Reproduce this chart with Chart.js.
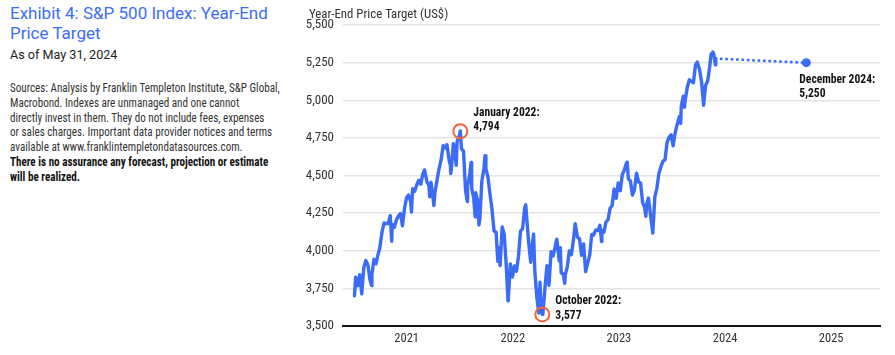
<!DOCTYPE html>
<html><head><meta charset="utf-8">
<script src="https://cdn.jsdelivr.net/npm/chart.js@4.4.1/dist/chart.umd.min.js"></script>
<style>
html,body{margin:0;padding:0;background:#fff;}
body{width:895px;height:355px;position:relative;overflow:hidden;font-family:Roboto,"Noto Sans",sans-serif;}
#side{position:absolute;left:10px;top:0;width:290px;}
.title{color:#3d6df5;font-size:17px;line-height:20px;margin-top:3px;}
.asof{font-size:12.6px;line-height:16px;color:#222;margin-top:4px;}
.src{font-family:"Roboto Condensed","Liberation Sans Narrow",Roboto,sans-serif;font-size:12px;line-height:14.8px;color:#333;margin-top:18px;white-space:nowrap;transform:scaleX(0.925);transform-origin:left top;}
.src b{color:#111;}
#wrap{position:absolute;left:300px;top:0;width:595px;height:355px;}
</style>
</head>
<body>
<div id="side">
  <div class="title">Exhibit 4: S&amp;P 500 Index: Year-End<br>Price Target</div>
  <div class="asof">As of May 31, 2024</div>
  <div class="src">Sources: Analysis by Franklin Templeton Institute, S&amp;P Global,<br>Macrobond. Indexes are unmanaged and one cannot<br>directly invest in them. They do not include fees, expenses<br>or sales charges. Important data provider notices and terms<br>available at www.franklintempletondatasources.com.<br><b>There is no assurance any forecast, projection or estimate<br>will be realized.</b></div>
</div>
<div id="wrap"><canvas id="c" width="595" height="355"></canvas></div>
<script>
// ---- data ----
const dates = [
'2021-01-04','2021-01-08','2021-01-15','2021-01-22','2021-01-29','2021-02-05','2021-02-12','2021-02-19','2021-02-26','2021-03-04','2021-03-05','2021-03-12','2021-03-19','2021-03-26',
'2021-04-01','2021-04-09','2021-04-16','2021-04-23','2021-04-30','2021-05-07','2021-05-12','2021-05-14','2021-05-21','2021-05-28','2021-06-04','2021-06-11','2021-06-18','2021-06-25',
'2021-07-02','2021-07-09','2021-07-16','2021-07-19','2021-07-23','2021-07-30','2021-08-06','2021-08-13','2021-08-20','2021-08-27','2021-09-02','2021-09-10','2021-09-17','2021-09-20','2021-09-24',
'2021-10-01','2021-10-04','2021-10-08','2021-10-15','2021-10-22','2021-10-29','2021-11-05','2021-11-12','2021-11-18','2021-11-26','2021-11-30','2021-12-01','2021-12-03','2021-12-10','2021-12-17','2021-12-20','2021-12-23','2021-12-31',
'2022-01-03','2022-01-07','2022-01-14','2022-01-21','2022-01-27','2022-01-28','2022-02-04','2022-02-09','2022-02-11','2022-02-18','2022-02-23','2022-02-25','2022-03-04','2022-03-08','2022-03-11','2022-03-18','2022-03-25','2022-03-29',
'2022-04-01','2022-04-08','2022-04-14','2022-04-22','2022-04-29','2022-05-06','2022-05-12','2022-05-13','2022-05-20','2022-05-27','2022-06-03','2022-06-10','2022-06-16','2022-06-17','2022-06-24',
'2022-07-01','2022-07-08','2022-07-15','2022-07-22','2022-07-29','2022-08-05','2022-08-12','2022-08-16','2022-08-19','2022-08-26','2022-09-02','2022-09-09','2022-09-12','2022-09-16','2022-09-23','2022-09-30',
'2022-10-04','2022-10-07','2022-10-12','2022-10-14','2022-10-21','2022-10-28','2022-11-04','2022-11-11','2022-11-18','2022-11-25','2022-12-01','2022-12-09','2022-12-13','2022-12-16','2022-12-23','2022-12-28','2022-12-30',
'2023-01-06','2023-01-13','2023-01-20','2023-01-27','2023-02-02','2023-02-10','2023-02-17','2023-02-24','2023-03-02','2023-03-03','2023-03-10','2023-03-17','2023-03-24','2023-03-31',
'2023-04-06','2023-04-14','2023-04-21','2023-04-28','2023-05-04','2023-05-05','2023-05-12','2023-05-19','2023-05-26','2023-06-02','2023-06-09','2023-06-16','2023-06-23','2023-06-30',
'2023-07-07','2023-07-14','2023-07-21','2023-07-28','2023-07-31','2023-08-04','2023-08-11','2023-08-18','2023-08-25','2023-09-01','2023-09-08','2023-09-15','2023-09-22','2023-09-29',
'2023-10-03','2023-10-06','2023-10-12','2023-10-20','2023-10-27','2023-11-03','2023-11-10','2023-11-17','2023-11-24','2023-12-01','2023-12-08','2023-12-15','2023-12-22','2023-12-29',
'2024-01-05','2024-01-12','2024-01-19','2024-01-26','2024-01-31','2024-02-02','2024-02-09','2024-02-13','2024-02-16','2024-02-23','2024-03-01','2024-03-08','2024-03-15','2024-03-22','2024-03-28',
'2024-04-05','2024-04-12','2024-04-19','2024-04-26','2024-05-03','2024-05-10','2024-05-15','2024-05-17','2024-05-21','2024-05-24','2024-05-30','2024-05-31'
];
const values = [
3701,3825,3768,3841,3714,3887,3935,3907,3811,3768,3842,3943,3913,3975,
4020,4129,4185,4180,4181,4233,4063,4174,4156,4204,4230,4247,4166,4281,
4352,4370,4327,4258,4412,4395,4437,4468,4442,4509,4537,4459,4433,4358,4455,
4357,4300,4391,4471,4545,4605,4698,4683,4705,4595,4567,4513,4538,4712,4621,4568,4726,4766,
4796,4677,4663,4398,4327,4432,4501,4587,4419,4349,4226,4385,4329,4171,4204,4463,4543,4632,
4546,4488,4393,4272,4132,4123,3930,4024,3901,4158,4109,3901,3667,3675,3912,
3825,3899,3863,3962,4130,4145,4280,4305,4228,4058,3924,4067,4110,3873,3693,3586,
3791,3640,3577,3583,3753,3901,3771,3993,3965,4026,4077,3934,4020,3852,3845,3783,3840,
3895,3999,3973,4071,4180,4090,4079,3970,3981,4046,3862,3917,3971,4109,
4105,4138,4134,4169,4061,4136,4124,4192,4205,4282,4299,4410,4348,4450,
4399,4505,4536,4582,4589,4478,4464,4370,4406,4516,4457,4450,4320,4288,
4229,4309,4350,4224,4117,4358,4415,4514,4559,4595,4604,4719,4755,4770,
4697,4784,4840,4891,4846,4959,5027,4953,5006,5089,5137,5124,5117,5234,5254,
5204,5123,4967,5100,5128,5223,5308,5303,5321,5305,5235,5278
];
const highlightDates = ['2022-01-03','2022-10-12'];
const highlightValues = [4794, 3577];
const highlightLabels = ['January 2022:', 'October 2022:'];
const forecastDate = '2025-04-08';
const forecastValue = 5250;
const forecastLabel = 'December 2024:';
const xTickLabels = ['2021','2022','2023','2024','2025'];
const yMin = 3500, yMax = 5500, yStep = 250;

// ---- helpers ----
function toYear(d){
  const [Y,M,D] = d.split('-').map(Number);
  const s = Date.UTC(Y,0,1), e = Date.UTC(Y+1,0,1);
  return Y + (Date.UTC(Y,M-1,D)-s)/(e-s);
}
const fmt = v => v.toLocaleString('en-US');
const BLUE = '#3b6cf7';
const ORANGE = '#f2643a';
const COND = '"Roboto Condensed","Liberation Sans Narrow",Roboto,sans-serif';

const mainData = dates.map((d,i)=>({x:toYear(d), y:values[i]}));
const lastPt = mainData[mainData.length-1];
const fcData = [lastPt, {x:toYear(forecastDate), y:forecastValue}];
const hlData = highlightDates.map((d,i)=>({x:toYear(d), y:highlightValues[i]}));

function drawText(ctx, text, x, y, sx){
  ctx.save();
  ctx.translate(x, y);
  ctx.scale(sx, 1);
  ctx.fillText(text, 0, 0);
  ctx.restore();
}

const textPlugin = {
  id:'texts',
  afterDraw(chart){
    const ctx = chart.ctx, xs = chart.scales.x, ys = chart.scales.y;
    ctx.save();
    ctx.fillStyle = '#333';
    ctx.font = '12.8px ' + COND;
    ctx.textBaseline = 'middle';
    ctx.textAlign = 'left';
    ctx.fillText('Year-End Price Target (US$)', 9, 15);
    ctx.fillStyle = '#111';
    ctx.font = 'bold 13px ' + COND;
    const sx = 0.89;
    const offs = [[13,-19,-5],[13,-13.5,1]];
    hlData.forEach((p,i)=>{
      const px = xs.getPixelForValue(p.x), py = ys.getPixelForValue(p.y);
      drawText(ctx, highlightLabels[i], px+offs[i][0], py+offs[i][1], sx);
      drawText(ctx, fmt(highlightValues[i]), px+offs[i][0], py+offs[i][2], sx);
    });
    const f = fcData[1];
    const fx = xs.getPixelForValue(f.x), fy = ys.getPixelForValue(f.y);
    drawText(ctx, forecastLabel, fx-7, fy+17, sx);
    drawText(ctx, fmt(forecastValue), fx-7, fy+31, sx);
    ctx.restore();
  }
};

new Chart(document.getElementById('c'), {
  type:'line',
  data:{datasets:[
    {data:hlData, showLine:false, pointRadius:7, pointHoverRadius:7, pointBorderColor:ORANGE, pointBackgroundColor:'rgba(0,0,0,0)', pointBorderWidth:2, order:0},
    {data:fcData, borderColor:BLUE, borderWidth:3, borderDash:[0,5.4], borderCapStyle:'round', pointRadius:[0,4.5], pointBackgroundColor:BLUE, pointBorderWidth:0, tension:0, order:1},
    {data:mainData, borderColor:BLUE, borderWidth:3.4, pointRadius:0, tension:0, borderJoinStyle:'round', borderCapStyle:'round', order:2}
  ]},
  options:{
    responsive:false, animation:false, devicePixelRatio:1,
    layout:{padding:{left:0,right:15,top:25,bottom:0}},
    plugins:{legend:{display:false}, tooltip:{enabled:false}},
    events:[],
    scales:{
      x:{type:'linear', min:2020.9, max:2025.96,
        afterBuildTicks(s){ s.ticks = xTickLabels.map(l=>({value:Number(l)+0.5})); },
        ticks:{autoSkip:false, maxRotation:0, color:'#333', font:{family:COND,size:12.5}, padding:5,
          callback:(v,i)=>xTickLabels[i]},
        grid:{display:false, drawTicks:false},
        border:{display:true, color:'#111', width:2},
        afterFit(s){ s.height = 29; }
      },
      y:{min:yMin, max:yMax,
        ticks:{stepSize:yStep, color:'#333', font:{family:COND,size:13}, padding:9, callback:v=>fmt(v)},
        grid:{color:'#e4e4e4', lineWidth:1.5, drawTicks:false},
        border:{display:false},
        afterFit(s){ s.width = 43; }
      }
    }
  },
  plugins:[textPlugin]
});
</script>
</body></html>
